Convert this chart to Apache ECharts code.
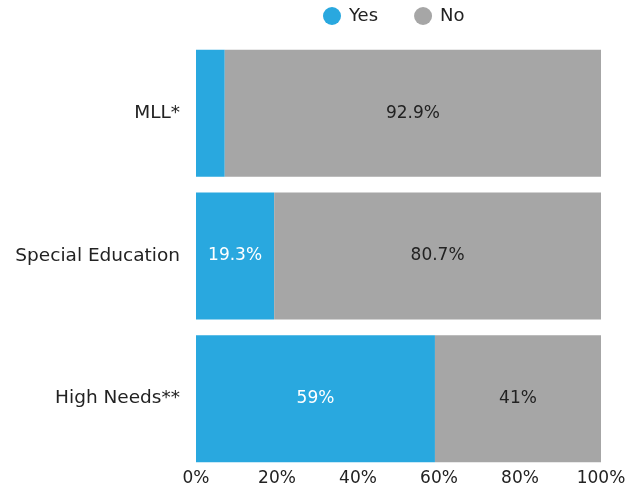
<!DOCTYPE html>
<html><head><meta charset="utf-8">
<script src="https://cdn.jsdelivr.net/npm/echarts@6/dist/echarts.min.js"></script>
<style>html,body{margin:0;padding:0;background:#fff}#c{width:626px;height:487px}</style>
</head><body><div id="c"></div>
<script>
const categories = ['MLL*', 'Special Education', 'High Needs**'];
const yesValues = [7.1, 19.3, 59];
const noValues = [92.9, 80.7, 41];
const tickLabels = ['0%', '20%', '40%', '60%', '80%', '100%'];

const FONT = 'DejaVu Sans';
const chart = echarts.init(document.getElementById('c'));
chart.setOption({
  animation: false,
  textStyle: { fontFamily: FONT },
  legend: {
    top: 2, left: 318,
    itemWidth: 18, itemHeight: 18, itemGap: 36,
    icon: 'circle',
    textStyle: { fontFamily: FONT, fontSize: 18, color: '#222', padding: [0, 0, 0, 3] },
    data: ['Yes', 'No']
  },
  grid: { left: 196, right: 25, top: 42, bottom: 17, outerBoundsMode: 'none', containLabel: false },
  xAxis: {
    type: 'value', min: 0, max: 100, interval: 20,
    axisLine: { show: false }, axisTick: { show: false }, splitLine: { show: false },
    axisLabel: { fontFamily: FONT, fontSize: 17, color: '#222', margin: 0,
      formatter: v => tickLabels[Math.round(v / 20)] }
  },
  yAxis: {
    type: 'category', inverse: true, data: categories,
    axisLine: { show: false }, axisTick: { show: false },
    axisLabel: { fontFamily: FONT, fontSize: 18.5, color: '#222', margin: 16 }
  },
  series: [
    { name: 'Yes', type: 'bar', stack: 's', barWidth: '89%', data: yesValues,
      itemStyle: { color: '#29a8df' },
      label: { show: true, position: 'inside', color: '#fff', fontFamily: FONT, fontSize: 17,
        formatter: p => p.value < 10 ? '' : p.value + '%' } },
    { name: 'No', type: 'bar', stack: 's', data: noValues,
      itemStyle: { color: '#a6a6a6' },
      label: { show: true, position: 'inside', color: '#222', fontFamily: FONT, fontSize: 17,
        formatter: p => p.value + '%' } }
  ]
});
</script></body></html>
